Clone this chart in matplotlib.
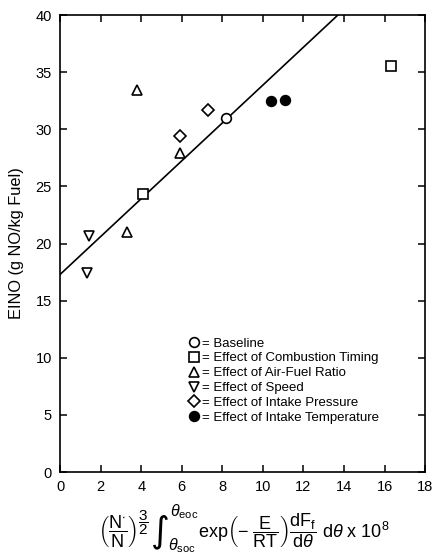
import matplotlib
matplotlib.use("Agg")
import matplotlib.pyplot as plt

plt.rcParams["font.family"] = ["Liberation Sans", "DejaVu Sans"]
plt.rcParams["mathtext.fontset"] = "custom"
plt.rcParams["mathtext.rm"] = "Liberation Sans"
plt.rcParams["mathtext.it"] = "Liberation Sans:italic"
plt.rcParams["mathtext.bf"] = "Liberation Sans:bold"

# measured points, one group per engine parameter
baseline_x = [8.2]
baseline_y = [31.0]

timing_x = [4.1, 16.3]
timing_y = [24.3, 35.5]

afr_x = [3.8, 5.9, 3.3]
afr_y = [33.4, 27.9, 21.0]

speed_x = [1.4, 1.3]
speed_y = [20.7, 17.4]

pressure_x = [5.9, 7.3]
pressure_y = [29.4, 31.7]

temp_x = [10.4, 11.1]
temp_y = [32.5, 32.6]

# correlation line
fit_x = [0.0, 13.7]
fit_y = [17.3, 40.0]

x_ticks = [0, 2, 4, 6, 8, 10, 12, 14, 16, 18]
y_ticks = [0, 5, 10, 15, 20, 25, 30, 35, 40]

W, H = 436, 556
fig = plt.figure(figsize=(W / 100, H / 100), dpi=100)
ax = fig.add_axes([0.138, 0.151, 0.837, 0.822])

ax.plot(fit_x, fit_y, color="black", linewidth=1.2, zorder=1)

mk = dict(linestyle="none", markersize=7, markeredgewidth=1.2,
          markeredgecolor="black", zorder=3)

ax.plot(baseline_x, baseline_y, marker="o", markerfacecolor="white",
        label="= Baseline", **mk)
ax.plot(timing_x, timing_y, marker="s", markerfacecolor="white",
        label="= Effect of Combustion Timing", **mk)
ax.plot(afr_x, afr_y, marker="^", markerfacecolor="white",
        label="= Effect of Air-Fuel Ratio", **mk)
ax.plot(speed_x, speed_y, marker="v", markerfacecolor="white",
        label="= Effect of Speed", **mk)
ax.plot(pressure_x, pressure_y, marker="D", markerfacecolor="white",
        label="= Effect of Intake Pressure", markersize=6.5,
        markeredgewidth=1.2, markeredgecolor="black", linestyle="none",
        zorder=3)
ax.plot(temp_x, temp_y, marker="o", markerfacecolor="black",
        label="= Effect of Intake Temperature", **mk)

ax.set_xlim(0, 18)
ax.set_ylim(0, 40)
ax.set_xticks(x_ticks)
ax.set_yticks(y_ticks)

ax.tick_params(direction="in", length=5, width=1.1, top=True, right=True,
               labelsize=10.5, pad=6)
for s in ax.spines.values():
    s.set_linewidth(1.2)

ax.set_ylabel("EINO (g NO/kg Fuel)", fontsize=11.8)
ax.yaxis.set_label_coords(-0.1, 0.5)

ax.legend(loc="center", bbox_to_anchor=(0.61, 0.2), frameon=False,
          fontsize=9.5, handletextpad=0.1, handlelength=1.0,
          labelspacing=0.2, borderpad=0)

# x label is built from pieces so the integral sign can be drawn large
fig.canvas.draw()
renderer = fig.canvas.get_renderer()


def piece(s, size, y_px, **kw):
    t = fig.text(0, 1 - y_px / H, s, fontsize=size, ha="left", va="center", **kw)
    return t, t.get_window_extent(renderer).width


t_paren, w_paren = piece(r"$\left(\dfrac{\mathrm{N^{\bullet}}}{\mathrm{N}}\right)$", 13, 531)
t_pow, w_pow = piece(r"$\dfrac{3}{2}$", 11, 523)
t_int, w_int = piece("\u222b", 26, 532, family="DejaVu Sans")
t_up, w_up = piece(r"$\theta_{\mathrm{eoc}}$", 11.5, 512)
t_lo, w_lo = piece(r"$\theta_{\mathrm{soc}}$", 11.5, 546)
t_rest, w_rest = piece(
    r"$\mathrm{exp}\left(-\ \dfrac{\mathrm{E}}{\mathrm{RT}}\right)"
    r"\dfrac{\mathrm{dF_f}}{\mathrm{d}\theta}\ \mathrm{d}\theta\ \mathrm{x}\ 10^8$",
    13, 531)

gaps = [1, 2, -1, 1]
total = w_paren + w_pow + w_int + max(w_up, w_lo) + w_rest + sum(gaps)
x = 244 - total / 2
t_paren.set_x(x / W)
x += w_paren + gaps[0]
t_pow.set_x(x / W)
x += w_pow + gaps[1]
t_int.set_x(x / W)
x += w_int + gaps[2]
t_up.set_x((x + 1) / W)
t_lo.set_x((x - 1) / W)
x += max(w_up, w_lo) + gaps[3]
t_rest.set_x(x / W)

fig.savefig("out.png", dpi=100)
